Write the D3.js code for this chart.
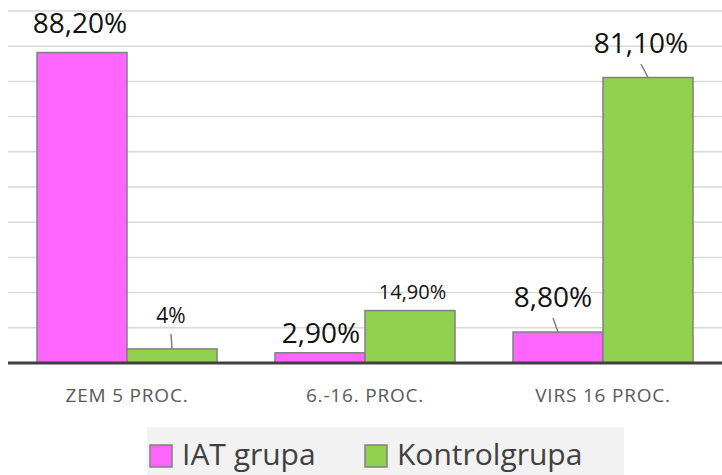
<!DOCTYPE html>
<html>
<head>
<meta charset="utf-8">
<script src="https://cdn.jsdelivr.net/npm/d3@7"></script>
<style>
  html, body { margin: 0; padding: 0; background: #fff; }
  svg { display: block; font-family: "Open Sans", sans-serif; }
</style>
</head>
<body>
<div id="chart"></div>
<script>
const categories = ["ZEM 5 PROC.", "6.-16. PROC.", "VIRS 16 PROC."];
const seriesNames = ["IAT grupa", "Kontrolgrupa"];
const iatValues = [88.2, 2.9, 8.8];
const controlValues = [4, 14.9, 81.1];
const iatLabels = ["88,20%", "2,90%", "8,80%"];
const controlLabels = ["4%", "14,90%", "81,10%"];
const yTicks = [0, 10, 20, 30, 40, 50, 60, 70, 80, 90, 100];

// manual label placement (Excel data labels were dragged by hand)
const labelStyle = {
  "IAT grupa": [
    { size: 28, dx: -2, dy: -19.5, leader: false },
    { size: 28, dx: 1, dy: -10, leader: false },
    { size: 28, dx: -5, dy: -25, leader: true },
  ],
  Kontrolgrupa: [
    { size: 21, dx: -1, dy: -26, leader: true },
    { size: 20, dx: 2.5, dy: -11.6, leader: false },
    { size: 28, dx: -7, dy: -24.5, leader: true },
  ],
};

const width = 722, height = 475;
const margin = { top: 11, right: 0, bottom: 112, left: 8 };
const colors = d3.scaleOrdinal().domain(seriesNames).range(["#ff66ff", "#92d050"]);

const data = categories.map((c, i) => ({
  category: c,
  values: [
    { series: seriesNames[0], value: iatValues[i], label: iatLabels[i], style: labelStyle["IAT grupa"][i] },
    { series: seriesNames[1], value: controlValues[i], label: controlLabels[i], style: labelStyle.Kontrolgrupa[i] },
  ],
}));

const svg = d3.select("#chart").append("svg").attr("width", width).attr("height", height);

const x0 = d3.scaleBand().domain(categories).range([margin.left, width - margin.right]);
const x1 = d3.scaleBand().domain(seriesNames).range([29, x0.bandwidth() - 29]);
const y = d3.scaleLinear().domain([0, 100]).range([height - margin.bottom, margin.top]);

// gridlines
svg.append("g")
  .selectAll("line")
  .data(yTicks.slice(1))
  .join("line")
  .attr("x1", margin.left)
  .attr("x2", width - margin.right)
  .attr("y1", (d) => y(d))
  .attr("y2", (d) => y(d))
  .attr("stroke", "#d9d9d9")
  .attr("stroke-width", 1.5);

// bars
const groups = svg.append("g")
  .selectAll("g")
  .data(data)
  .join("g")
  .attr("transform", (d) => `translate(${x0(d.category)},0)`);

groups.selectAll("rect")
  .data((d) => d.values)
  .join("rect")
  .attr("x", (d) => x1(d.series))
  .attr("y", (d) => y(d.value))
  .attr("width", x1.bandwidth())
  .attr("height", (d) => y(0) - y(d.value))
  .attr("fill", (d) => colors(d.series))
  .attr("stroke", "#808080")
  .attr("stroke-width", 1.5);

// leader lines
groups.selectAll("line.leader")
  .data((d) => d.values.filter((v) => v.style.leader))
  .join("line")
  .attr("class", "leader")
  .attr("x1", (d) => x1(d.series) + x1.bandwidth() / 2)
  .attr("y1", (d) => y(d.value))
  .attr("x2", (d) => x1(d.series) + x1.bandwidth() / 2 + d.style.dx)
  .attr("y2", (d) => y(d.value) + d.style.dy + 11)
  .attr("stroke", "#808080")
  .attr("stroke-width", 1.5);

// data labels
groups.selectAll("text.value")
  .data((d) => d.values)
  .join("text")
  .attr("class", "value")
  .attr("x", (d) => x1(d.series) + x1.bandwidth() / 2 + d.style.dx)
  .attr("y", (d) => y(d.value) + d.style.dy)
  .attr("text-anchor", "middle")
  .attr("font-size", (d) => d.style.size)
  .attr("fill", "#111")
  .text((d) => d.label);

// baseline
svg.append("line")
  .attr("x1", margin.left)
  .attr("x2", width - margin.right)
  .attr("y1", y(0))
  .attr("y2", y(0))
  .attr("stroke", "#404040")
  .attr("stroke-width", 3);

// category labels
const xAxis = svg.append("g")
  .attr("transform", `translate(0,${y(0)})`)
  .call(d3.axisBottom(x0).tickSize(0).tickPadding(0));
xAxis.select(".domain").remove();
xAxis.selectAll("text")
  .attr("y", 39)
  .attr("dy", null)
  .attr("font-family", "Open Sans, sans-serif")
  .attr("font-size", 19)
  .attr("letter-spacing", 0.8)
  .attr("fill", "#595959");

// legend
const legend = svg.append("g");
legend.append("rect")
  .attr("x", 147)
  .attr("y", 427)
  .attr("width", 477)
  .attr("height", 48)
  .attr("fill", "#f2f2f2");

const legendX = [150, 365];
const item = legend.selectAll("g.item")
  .data(seriesNames)
  .join("g")
  .attr("class", "item")
  .attr("transform", (d, i) => `translate(${legendX[i]},445)`);
item.append("rect")
  .attr("width", 22)
  .attr("height", 22)
  .attr("fill", (d) => colors(d))
  .attr("stroke", "#808080")
  .attr("stroke-width", 1.5);
item.append("text")
  .attr("x", 32)
  .attr("y", 20)
  .attr("font-size", 30)
  .attr("fill", "#404040")
  .text((d) => d);
</script>
</body>
</html>
